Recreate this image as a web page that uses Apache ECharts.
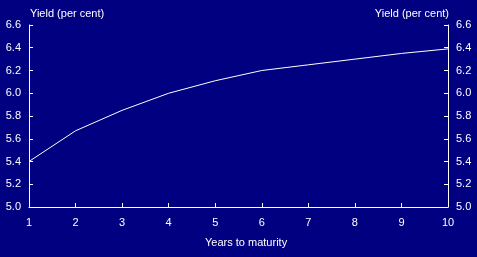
<!DOCTYPE html>
<html>
<head>
<meta charset="utf-8">
<script src="https://cdn.jsdelivr.net/npm/echarts@6/dist/echarts.min.js"></script>
<style>
html,body{margin:0;padding:0;background:#000080;}
#c{width:477px;height:257px;}
</style>
</head>
<body>
<div id="c"></div>
<script>
const years = [1, 2, 3, 4, 5, 6, 7, 8, 9, 10];
const yieldValues = [5.40, 5.67, 5.85, 6.00, 6.11, 6.20, 6.25, 6.30, 6.35, 6.39];
const yTitle = 'Yield (per cent)';
const xTitle = 'Years to maturity';

const font = 'Liberation Sans, Arial, sans-serif';
const chart = echarts.init(document.getElementById('c'), null, {renderer: 'canvas'});
const yAxisCommon = {
  type: 'value', min: 5.0, max: 6.6, interval: 0.2,
  axisLine: {show: true, lineStyle: {color: '#ffffff', width: 1}},
  axisTick: {show: true, inside: true, length: 4, lineStyle: {color: '#ffffff'}},
  splitLine: {show: false},
  axisLabel: {color: '#ffffff', fontSize: 11, fontFamily: font, margin: 8,
    formatter: v => v.toFixed(1)}
};
chart.setOption({
  backgroundColor: '#000080',
  animation: false,
  grid: {left: 29, right: 29, top: 25, bottom: 50},
  xAxis: {
    type: 'value', min: 1, max: 10, interval: 1,
    axisLine: {show: true, onZero: false, lineStyle: {color: '#ffffff', width: 1}},
    axisTick: {show: true, inside: true, length: 4, lineStyle: {color: '#ffffff'}},
    splitLine: {show: false},
    axisLabel: {color: '#ffffff', fontSize: 11, fontFamily: font, margin: 10}
  },
  yAxis: [
    Object.assign({position: 'left'}, yAxisCommon),
    Object.assign({position: 'right'}, yAxisCommon)
  ],
  graphic: [
    {type: 'text', left: 30, top: 8, style: {text: yTitle, fill: '#ffffff', font: '11px ' + font}},
    {type: 'text', right: 28, top: 8, style: {text: yTitle, fill: '#ffffff', font: '11px ' + font}},
    {type: 'text', left: 205, top: 237, style: {text: xTitle, fill: '#ffffff', font: '11px ' + font}}
  ],
  series: [{
    type: 'line',
    data: years.map((y, i) => [y, yieldValues[i]]),
    showSymbol: false,
    lineStyle: {color: '#ffffff', width: 1},
    yAxisIndex: 0
  }]
});
</script>
</body>
</html>
